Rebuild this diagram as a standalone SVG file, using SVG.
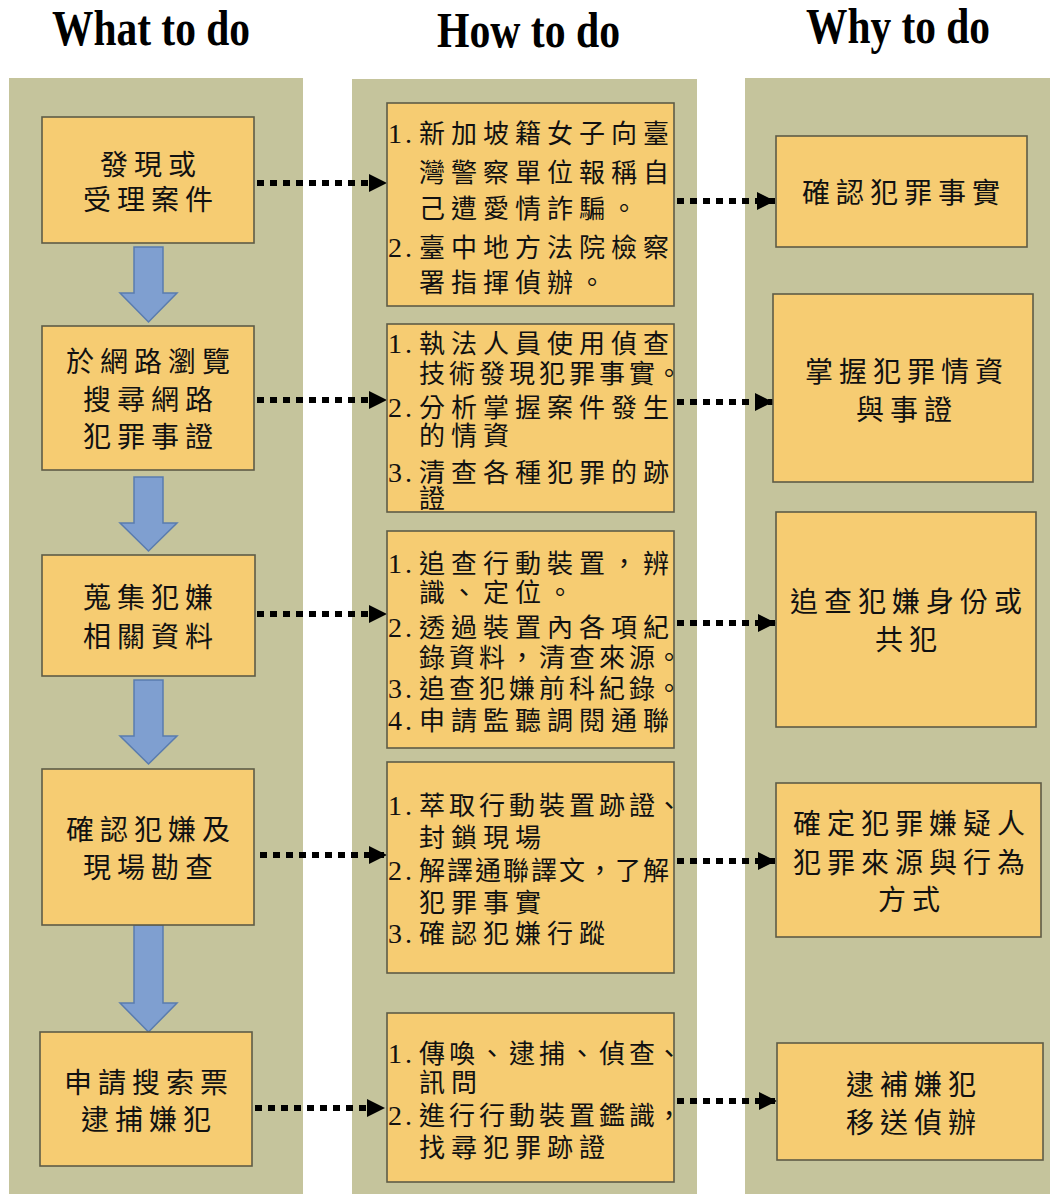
<svg xmlns="http://www.w3.org/2000/svg" width="1050" height="1194" viewBox="0 0 1050 1194">
<defs>
<style>
.col{fill:#c5c49c}
.box{fill:#f6cc72;stroke:#5e5c47;stroke-width:1.6}
.hdr{font-family:"Liberation Serif","Times New Roman",serif;font-weight:bold;font-size:50px;fill:#000}
.c{font-family:"Noto Sans CJK TC","Noto Sans CJK SC",sans-serif;font-size:28px;fill:#111;letter-spacing:6px;text-anchor:middle}
.h{font-family:"Noto Sans CJK TC","Noto Sans CJK SC",sans-serif;font-size:26px;fill:#111;letter-spacing:6px}
.h .n{font-family:"Liberation Serif","Times New Roman",serif;font-size:28px;letter-spacing:3px}
.sq{letter-spacing:4px}
.dot{stroke:#000;stroke-width:6;stroke-dasharray:7 6;fill:none}
.blk{fill:#7f9fd0;stroke:#5a7cae;stroke-width:1.5}
</style>
<marker id="ah" markerUnits="userSpaceOnUse" markerWidth="18" markerHeight="18" viewBox="0 0 18 18" refX="18" refY="9" orient="auto">
<path d="M0,0 L18,9 L0,18 Z" fill="#000"/>
</marker>
</defs>
<rect width="1050" height="1194" fill="#fff"/>
<g id="columns">
<rect class="col" x="9" y="78" width="294" height="1116"/>
<rect class="col" x="352" y="79" width="345" height="1115"/>
<rect class="col" x="745" y="78" width="305" height="1116"/>
</g>
<g id="headers">
<text class="hdr" x="52" y="45" textLength="198" lengthAdjust="spacingAndGlyphs">What to do</text>
<text class="hdr" x="437" y="47" textLength="183" lengthAdjust="spacingAndGlyphs">How to do</text>
<text class="hdr" x="806" y="43" textLength="184" lengthAdjust="spacingAndGlyphs">Why to do</text>
</g>
<g id="connectors">
<path class="blk" d="M134,247 H163 V293 H177 L148.5,322 L120,293 H134 Z"/>
<path class="blk" d="M134,477 H163 V523 H177 L148.5,551 L120,523 H134 Z"/>
<path class="blk" d="M134,680 H163 V736 H177 L148.5,764 L120,736 H134 Z"/>
<path class="blk" d="M134,925 H163 V1003 H177 L148.5,1032 L120,1003 H134 Z"/>
<line class="dot" x1="257" y1="183" x2="387" y2="183" marker-end="url(#ah)"/>
<line class="dot" x1="257" y1="400" x2="387" y2="400" marker-end="url(#ah)"/>
<line class="dot" x1="257" y1="614" x2="387" y2="614" marker-end="url(#ah)"/>
<line class="dot" x1="260" y1="855" x2="387" y2="855" marker-end="url(#ah)"/>
<line class="dot" x1="255" y1="1108" x2="385" y2="1108" marker-end="url(#ah)"/>
<line class="dot" x1="677" y1="201" x2="775" y2="201" marker-end="url(#ah)"/>
<line class="dot" x1="677" y1="402" x2="773" y2="402" marker-end="url(#ah)"/>
<line class="dot" x1="677" y1="623" x2="776" y2="623" marker-end="url(#ah)"/>
<line class="dot" x1="677" y1="861" x2="776" y2="861" marker-end="url(#ah)"/>
<line class="dot" x1="677" y1="1101" x2="777" y2="1101" marker-end="url(#ah)"/>
</g>
<g id="what1">
<rect class="box" x="42" y="117" width="212" height="126"/>
<text class="c" x="151" y="175">發現或</text>
<text class="c" x="151" y="210">受理案件</text>
</g>
<g id="what2">
<rect class="box" x="42" y="326" width="212" height="144"/>
<text class="c" x="151" y="372">於網路瀏覽</text>
<text class="c" x="151" y="410">搜尋網路</text>
<text class="c" x="151" y="447">犯罪事證</text>
</g>
<g id="what3">
<rect class="box" x="42" y="555" width="213" height="121"/>
<text class="c" x="151" y="608">蒐集犯嫌</text>
<text class="c" x="151" y="647">相關資料</text>
</g>
<g id="what4">
<rect class="box" x="42" y="769" width="212" height="156"/>
<text class="c" x="151" y="840">確認犯嫌及</text>
<text class="c" x="151" y="878">現場勘查</text>
</g>
<g id="what5">
<rect class="box" x="40" y="1032" width="212" height="134"/>
<text class="c" x="149" y="1093">申請搜索票</text>
<text class="c" x="149" y="1130">逮捕嫌犯</text>
</g>
<g id="how1">
<rect class="box" x="387" y="103" width="287" height="203"/>
<text class="h" y="143"><tspan class="n" x="388">1.</tspan><tspan x="419">新加坡籍女子向臺</tspan></text>
<text class="h" x="419" y="182">灣警察單位報稱自</text>
<text class="h" x="419" y="218">己遭愛情詐騙。</text>
<text class="h" y="257"><tspan class="n" x="388">2.</tspan><tspan x="419">臺中地方法院檢察</tspan></text>
<text class="h" x="419" y="292">署指揮偵辦。</text>
</g>
<g id="how2">
<rect class="box" x="387" y="324" width="287" height="188"/>
<text class="h" y="353"><tspan class="n" x="388">1.</tspan><tspan x="419">執法人員使用偵查</tspan></text>
<text class="h" y="383"><tspan class="sq" x="419">技術發現犯罪事實</tspan><tspan x="656">。</tspan></text>
<text class="h" y="417"><tspan class="n" x="388">2.</tspan><tspan x="419">分析掌握案件發生</tspan></text>
<text class="h" x="419" y="445">的情資</text>
<text class="h" y="482"><tspan class="n" x="388">3.</tspan><tspan x="419">清查各種犯罪的跡</tspan></text>
<text class="h" x="419" y="508">證</text>
</g>
<g id="how3">
<rect class="box" x="387" y="531" width="287" height="217"/>
<text class="h" y="573"><tspan class="n" x="388">1.</tspan><tspan x="419">追查行動裝置，辨</tspan></text>
<text class="h" x="419" y="602">識、定位。</text>
<text class="h" y="637"><tspan class="n" x="388">2.</tspan><tspan x="419">透過裝置內各項紀</tspan></text>
<text class="h" y="667"><tspan class="sq" x="419">錄資料，清查來源</tspan><tspan x="656">。</tspan></text>
<text class="h" y="698"><tspan class="n" x="388">3.</tspan><tspan class="sq" x="419">追查犯嫌前科紀錄</tspan><tspan x="656">。</tspan></text>
<text class="h" y="730"><tspan class="n" x="388">4.</tspan><tspan x="419">申請監聽調閱通聯</tspan></text>
</g>
<g id="how4">
<rect class="box" x="387" y="762" width="287" height="211"/>
<text class="h" y="815"><tspan class="n" x="388">1.</tspan><tspan class="sq" x="419">萃取行動裝置跡證</tspan><tspan x="656">、</tspan></text>
<text class="h" x="419" y="847">封鎖現場</text>
<text class="h" y="880"><tspan class="n" x="388">2.</tspan><tspan x="419" style="letter-spacing:2px">解譯通聯譯文，了解</tspan></text>
<text class="h" x="419" y="912">犯罪事實</text>
<text class="h" y="943"><tspan class="n" x="388">3.</tspan><tspan x="419">確認犯嫌行蹤</tspan></text>
</g>
<g id="how5">
<rect class="box" x="387" y="1013" width="287" height="169"/>
<text class="h" y="1063"><tspan class="n" x="388">1.</tspan><tspan class="sq" x="419">傳喚、逮捕、偵查</tspan><tspan x="656">、</tspan></text>
<text class="h" x="419" y="1092">訊問</text>
<text class="h" y="1125"><tspan class="n" x="388">2.</tspan><tspan class="sq" x="419">進行行動裝置鑑識</tspan><tspan x="656">，</tspan></text>
<text class="h" x="419" y="1157">找尋犯罪跡證</text>
</g>
<g id="why1">
<rect class="box" x="776" y="136" width="251" height="111"/>
<text class="c" x="904" y="203">確認犯罪事實</text>
</g>
<g id="why2">
<rect class="box" x="773" y="294" width="260" height="188"/>
<text class="c" x="907" y="382">掌握犯罪情資</text>
<text class="c" x="907" y="420">與事證</text>
</g>
<g id="why3">
<rect class="box" x="776" y="512" width="260" height="215"/>
<text class="c" x="909" y="612">追查犯嫌身份或</text>
<text class="c" x="909" y="650">共犯</text>
</g>
<g id="why4">
<rect class="box" x="776" y="783" width="265" height="154"/>
<text class="c" x="912" y="834">確定犯罪嫌疑人</text>
<text class="c" x="912" y="873">犯罪來源與行為</text>
<text class="c" x="912" y="910">方式</text>
</g>
<g id="why5">
<rect class="box" x="777" y="1043" width="266" height="117"/>
<text class="c" x="914" y="1095">逮補嫌犯</text>
<text class="c" x="914" y="1133">移送偵辦</text>
</g>
</svg>
